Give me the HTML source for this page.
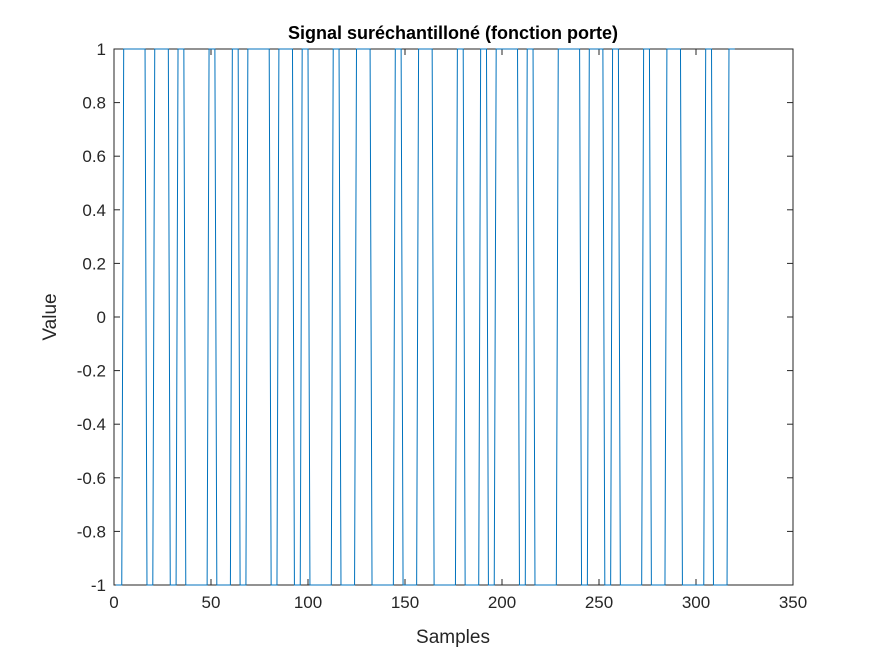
<!DOCTYPE html>
<html><head><meta charset="utf-8"><style>
body{margin:0;background:#fff;}
svg text{font-family:"Liberation Sans",Arial,sans-serif;}
</style></head><body>
<svg id="chart" width="875" height="656">
<rect width="875" height="656" fill="#fff"/>
<rect x="114" y="49" width="679" height="536" fill="#fff"/>
<rect x="114" y="49" width="679" height="536" fill="none" stroke="#262626" stroke-width="1"/>
<g id="ticks"></g>
<path id="signal" fill="none" stroke="#0072BD" stroke-width="1"/>
<text x="453" y="39" text-anchor="middle" font-size="18" font-weight="bold" fill="#000">Signal suréchantilloné (fonction porte)</text>
<text x="453" y="643" text-anchor="middle" font-size="19" fill="#262626">Samples</text>
<text x="56" y="317" text-anchor="middle" font-size="19" fill="#262626" transform="rotate(-90 56 317)">Value</text>
</svg>
<script>
const symbolBits=[0,1,1,1,0,1,1,0,1,0,0,0,1,0,0,1,0,1,1,1,0,1,1,0,1,0,0,0,1,0,0,1,1,0,0,0,1,0,0,1,1,0,0,0,1,0,0,1,0,1,1,1,0,1,0,0,0,1,1,1,0,1,1,0,1,0,0,0,1,0,0,1,1,0,0,0,1,0,0,1];
const oversample=4;
const xTicks=[0,50,100,150,200,250,300,350];
const yTicks=[-1,-0.8,-0.6,-0.4,-0.2,0,0.2,0.4,0.6,0.8,1];
const yTickLabels=["-1","-0.8","-0.6","-0.4","-0.2","0","0.2","0.4","0.6","0.8","1"];
const X0=114,X1=793,Y0=585,Y1=49;
const sx=v=>X0+(v-0)/(350-0)*(X1-X0);
const sy=v=>Y0-(v+1)/2*(Y0-Y1);
const samples=[];
symbolBits.forEach(b=>{for(let i=0;i<oversample;i++)samples.push(b?1:-1);});
let d='';
samples.forEach((v,i)=>{d+=(i?'L':'M')+sx(i+1).toFixed(2)+' '+sy(v).toFixed(2);});
document.getElementById('signal').setAttribute('d',d);
const NS='http://www.w3.org/2000/svg';
const tg=document.getElementById('ticks');
function mk(tag,attrs){const e=document.createElementNS(NS,tag);for(const k in attrs)e.setAttribute(k,attrs[k]);tg.appendChild(e);return e;}
xTicks.forEach(t=>{
 const x=sx(t);
 const l1=mk('line',{x1:x,x2:x,y1:Y0,y2:Y0-6,stroke:'#262626'});
 
 
 const l2=mk('line',{x1:x,x2:x,y1:Y1,y2:Y1+6,stroke:'#262626'});
 
 
 const tx=mk('text',{x:x,y:Y0+23,'text-anchor':'middle','font-size':'17',fill:'#262626'});
 tx.textContent=String(t);
 
 
});
yTicks.forEach((t,i)=>{
 const y=sy(t);
 const l1=mk('line',{x1:X0,x2:X0+6,y1:y,y2:y,stroke:'#262626'});
 
 
 const l2=mk('line',{x1:X1,x2:X1-6,y1:y,y2:y,stroke:'#262626'});
 
 
 const tx=mk('text',{x:X0-8,y:y+6,'text-anchor':'end','font-size':'17',fill:'#262626'});
 tx.textContent=yTickLabels[i];
 
 
});
</script>
</body></html>
